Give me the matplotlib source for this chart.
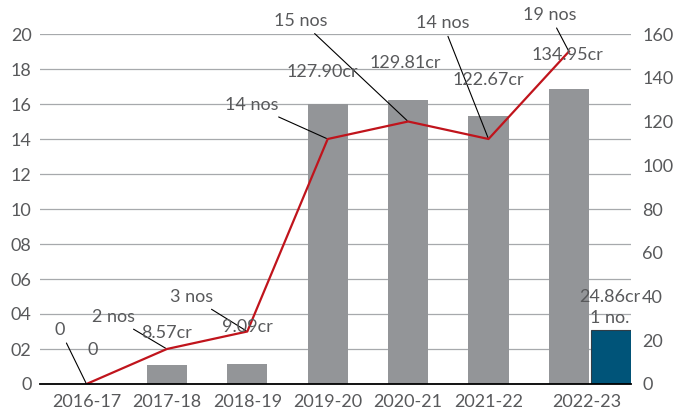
import matplotlib
matplotlib.use("Agg")
import matplotlib.pyplot as plt

plt.rcParams['font.family'] = ['Lato', 'DejaVu Sans']

# Data
years = ["2016-17", "2017-18", "2018-19", "2019-20", "2020-21", "2021-22", "2022-23"]
amount_cr = [0, 8.57, 9.09, 127.90, 129.81, 122.67, 134.95]   # right axis (Rs cr)
count_nos = [0, 2, 3, 14, 15, 14, 19]                          # left axis (nos)
extra_amount_cr = 24.86                                        # 2022-23 additional item
extra_count = 1

left_ticks = [0, 2, 4, 6, 8, 10, 12, 14, 16, 18, 20]
left_tick_labels = ["0", "02", "04", "06", "08", "10", "12", "14", "16", "18", "20"]
right_ticks = [0, 20, 40, 60, 80, 100, 120, 140, 160]

count_labels = ["0", "2 nos", "3 nos", "14 nos", "15 nos", "14 nos", "19 nos"]
amount_labels = ["0", "8.57cr", "9.09cr", "127.90cr", "129.81cr", "122.67cr", "134.95cr"]

# Label placement (data coords on left axis)
count_label_pos = [(-0.33, 3.1), (0.33, 3.83), (1.31, 4.97), (2.06, 15.94),
                   (2.67, 20.75), (4.43, 20.63), (5.76, 21.1)]
amount_label_pos = [(0.08, 1.94), (1.0, 2.91), (2.0, 3.26), (2.93, 17.83),
                    (3.96, 18.34), (5.0, 17.37), (5.98, 18.8)]

GRAY = "#939598"
BLUE = "#005479"
RED = "#c0141c"
TXT = "#58595b"
GRID = "#a7a9ac"
FS = 13

fig = plt.figure(figsize=(6.87, 4.12), dpi=100)
rect = [40 / 687, 28 / 412, 591 / 687, 350 / 412]

# Base axes: count scale with gridlines
ax = fig.add_axes(rect)
ax.set_ylim(0, 20)
ax.set_xlim(-0.578, 6.772)
ax.set_yticks(left_ticks)
ax.set_yticklabels(left_tick_labels)
ax.grid(axis="y", color=GRID, linewidth=0.9)
ax.set_axisbelow(True)

x = list(range(len(years)))
bar_w = 0.5
tick_pos = x[:-1] + [6.225]
ax.set_xticks(tick_pos)
ax.set_xticklabels(years)

# Amount axis with bars
ax2 = ax.twinx()
ax2.bar(x, amount_cr, width=bar_w, color=GRAY, zorder=2)
ax2.bar([6.52], [extra_amount_cr], width=bar_w, color=BLUE,
        edgecolor="#2f3d47", linewidth=0.8, zorder=2)
ax2.set_ylim(0, 160)
ax2.set_yticks(right_ticks)

# Overlay for the count line and labels
ax3 = ax.twinx()
ax3.set_ylim(0, 20)
ax3.yaxis.set_visible(False)
ax3.plot(x, count_nos, color=RED, linewidth=1.6, zorder=5)

for a in (ax, ax2, ax3):
    for s in ("top", "right", "left", "bottom"):
        a.spines[s].set_visible(False)
    a.tick_params(length=0, labelsize=FS, labelcolor=TXT)
ax.tick_params(axis="y", pad=6)
ax2.tick_params(axis="y", pad=8)
ax.tick_params(axis="x", pad=7)
ax3.axhline(0, color="black", linewidth=1.3, zorder=6, clip_on=False)

# Count labels with leader lines
for i, (lbl, pos) in enumerate(zip(count_labels, count_label_pos)):
    ax3.annotate(lbl, xy=(x[i], count_nos[i]), xytext=pos,
                 ha="center", va="center", fontsize=FS, color=TXT,
                 annotation_clip=False,
                 arrowprops=dict(arrowstyle="-", color="black", lw=0.8,
                                 shrinkA=2, shrinkB=1))

# Amount labels
for lbl, pos in zip(amount_labels, amount_label_pos):
    ax3.text(pos[0], pos[1], lbl, ha="center", va="center", fontsize=FS,
             color=TXT, zorder=7)

ax3.text(6.51, 5.0, f"{extra_amount_cr:.2f}cr", ha="center", va="center",
         fontsize=FS, color=TXT, zorder=7)
ax3.text(6.51, 3.8, f"{extra_count} no.", ha="center", va="center",
         fontsize=FS, color=TXT, zorder=7)

fig.savefig("out.png", dpi=100, facecolor="white")
